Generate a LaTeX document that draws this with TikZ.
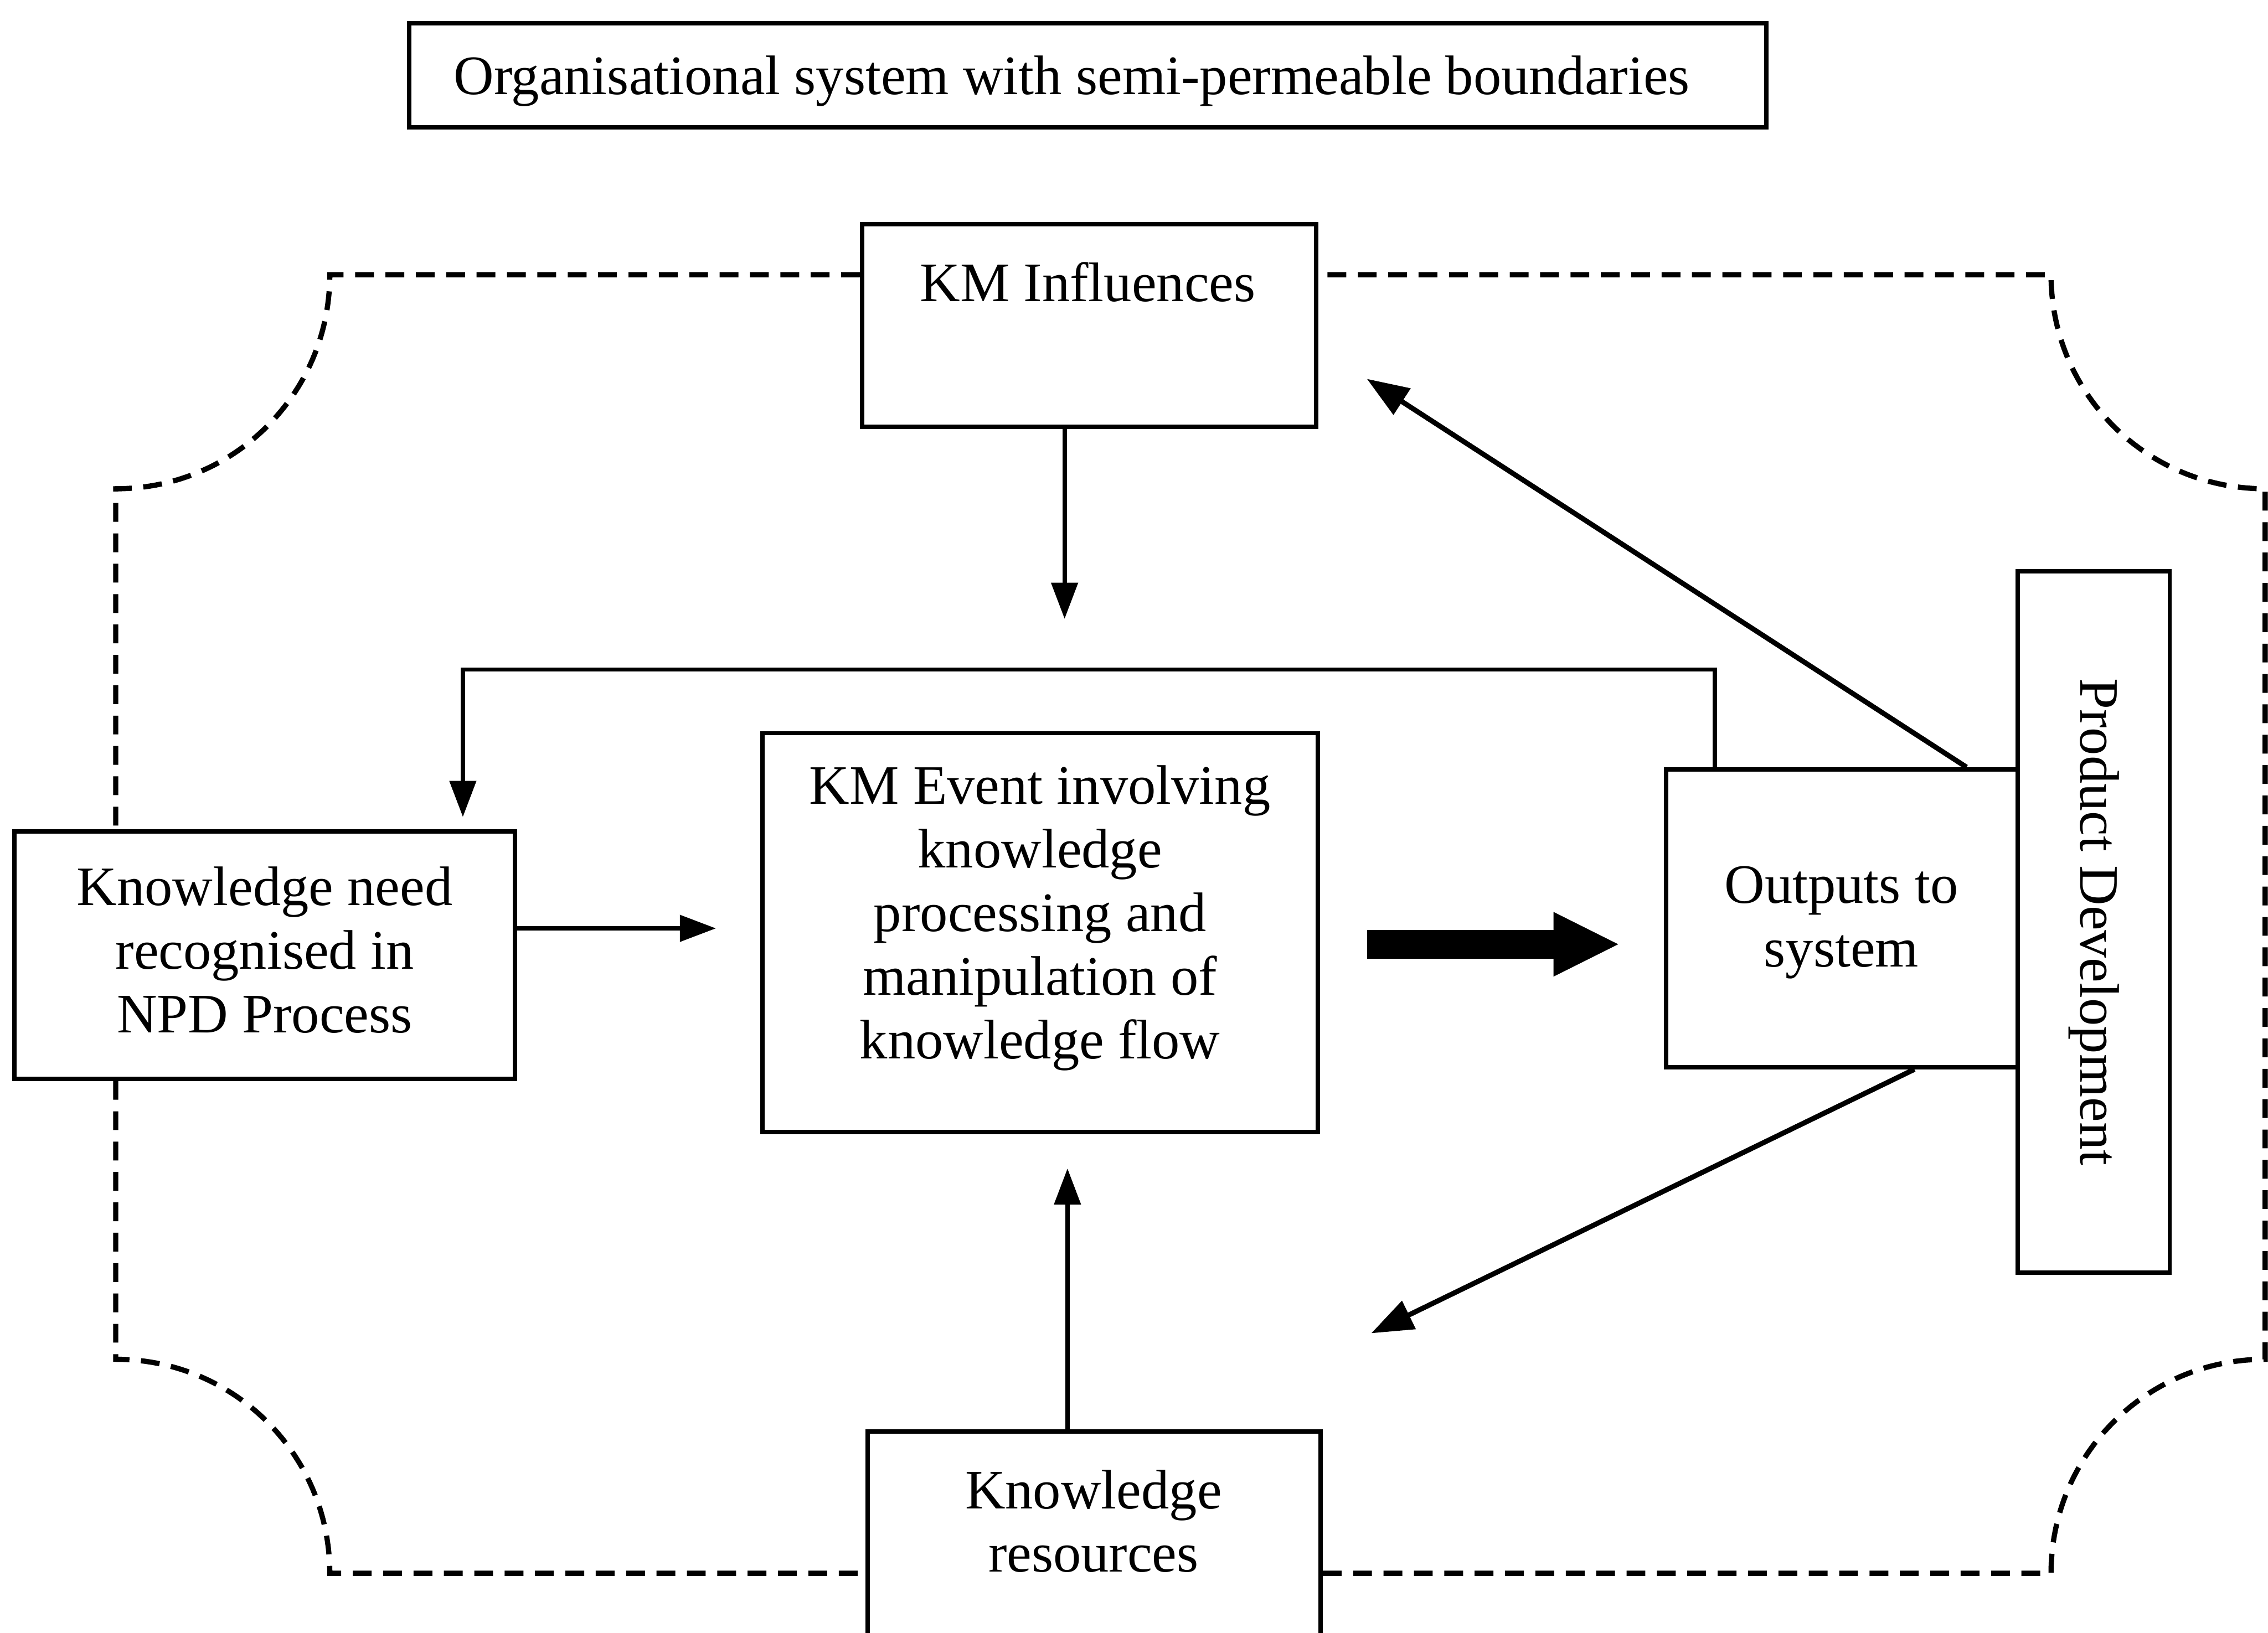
\documentclass[tikz,border=0pt]{standalone}
\usepackage{fontspec}
\setmainfont{Liberation Serif}
\usetikzlibrary{arrows.meta,calc}
\begin{document}
\begin{tikzpicture}[x=1pt,y=-1pt,
  every node/.style={font=\fontsize{38.5}{44}\selectfont, inner sep=0pt},
  box/.style={draw, line width=3pt, rectangle},
  txt/.style={align=center},
  arr/.style={line width=3pt, -{Triangle[length=25pt,width=18pt]}},
  diag/.style={line width=3.5pt, -{Triangle[length=29pt,width=21pt]}},
  boundary/.style={line width=3.6pt, dash pattern=on 13pt off 8pt},
  block/.style={line width=20pt, -{Triangle[length=46pt,width=41pt]}}
]
% page area
\fill[white] (0,0) rectangle (1568,1129);
\useasboundingbox (0,0) rectangle (1568,1129);

% title
\node[box, minimum width=938, minimum height=72] (title) at (752,52) {};
\node[txt] (title-txt) at (741,56)
  {Organisational system with semi-permeable boundaries};

% boxes and their texts
\node[box, minimum width=314, minimum height=140] (kmi) at (753,225) {};
\node[txt] (kmi-txt) at (752,195) {KM Influences};

\node[box, minimum width=346, minimum height=171] (need) at (183,660.5) {};
\node[txt] (need-txt) at (183,657)
  {Knowledge need\\recognised in\\NPD Process};

\node[box, minimum width=384, minimum height=276] (event) at (719,645) {};
\node[txt] (event-txt) at (719,635)
  {KM Event involving\\knowledge\\processing and\\manipulation of\\knowledge flow};

\node[box, minimum width=243, minimum height=206] (outp) at (1273.5,635) {};
\node[txt] (outp-txt) at (1273,638) {Outputs to\\system};

\node[box, rotate=-90, minimum width=485, minimum height=105] (pd) at (1447.5,637.5)
  {Product Development};

\node[box, minimum width=313, minimum height=160] (kr) at (756.5,1070) {};
\node[txt] (kr-txt) at (756,1052) {Knowledge\\resources};

% semi-permeable boundary
\draw[boundary] (kmi.west |- 0,190) -- (228,190)
  .. controls (228,272) and (162,338) .. (80,338) -- (80,0 |- need.north);
\draw[boundary] (80,0 |- need.south) -- (80,940)
  .. controls (162,940) and (228,1006) .. (228,1088) -- (kr.west |- 0,1088);
\draw[boundary] (kr.east |- 0,1088) -- (1418,1088)
  .. controls (1418,1006) and (1484,940) .. (1566,940) -- (1566,338)
  .. controls (1484,338) and (1418,272) .. (1418,190) -- (kmi.east |- 0,190);

% free arrow ends
\coordinate (kmi-end) at (736,428);
\coordinate (kr-end) at (738,808);
\coordinate (need-end) at (495,642);
\coordinate (blk-start) at (945,653);
\coordinate (blk-tip) at (1120,653);
\coordinate (fb-corner) at (320,463);
\coordinate (fb-end) at (320,565);
\coordinate (up-end) at (945,262);
\coordinate (down-end) at (948,922);

% connectors
\draw[arr] (kmi.south -| kmi-end) -- (kmi-end);
\draw[arr] (kr.north -| kr-end) -- (kr-end);
\draw[arr] (need.east |- need-end) -- (need-end);
\draw[block] (blk-start) -- (blk-tip);
\draw[arr] ($(outp.north west)+(35,0)$) |- (fb-corner) -- (fb-end);
\draw[diag] ($(outp.north east)+(-37,0)$) -- (up-end);
\draw[diag] ($(outp.south west)+(173,0)$) -- (down-end);
\end{tikzpicture}
\end{document}
